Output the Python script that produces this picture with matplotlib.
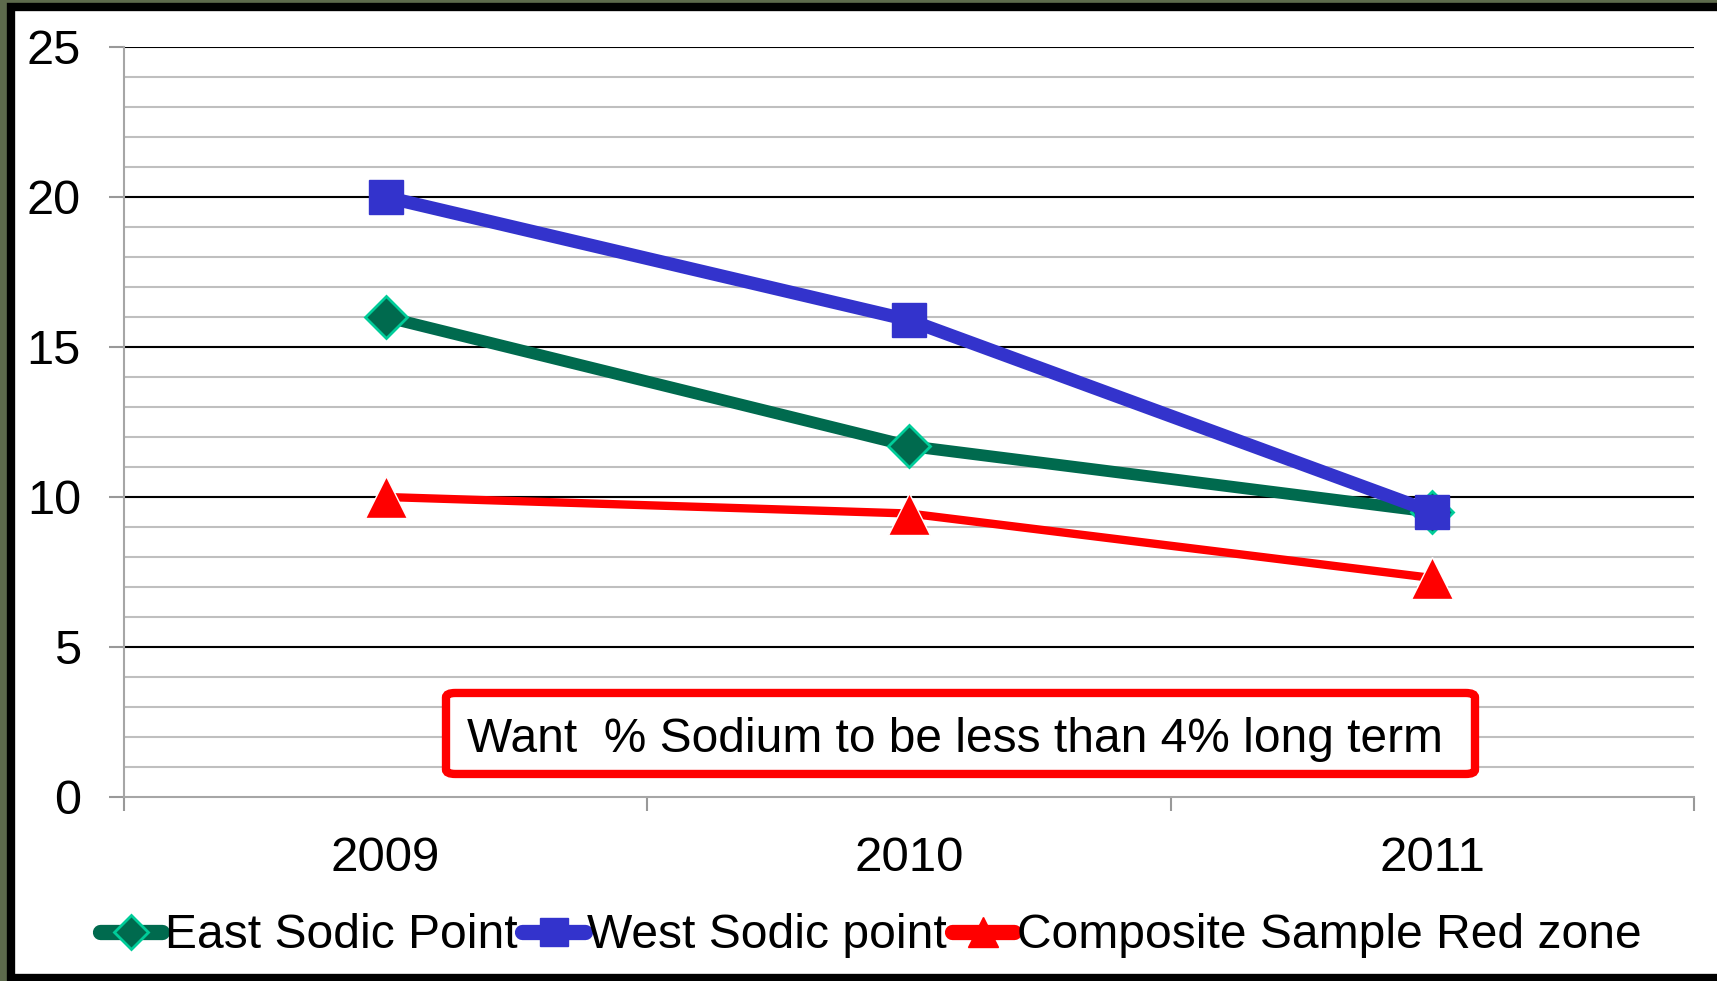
import matplotlib
matplotlib.use("Agg")
import matplotlib.pyplot as plt
from matplotlib.lines import Line2D
from matplotlib.patches import Rectangle, FancyBboxPatch

years = ["2009", "2010", "2011"]
east_sodic = [16.0, 11.7, 9.5]
west_sodic = [20.0, 15.9, 9.5]
composite_red = [10.0, 9.45, 7.3]
series_names = ["East Sodic Point", "West Sodic point", "Composite Sample Red zone"]
note_text = "Want  % Sodium to be less than 4% long term"

W, H = 1717, 981
plt.rcParams["font.family"] = ["Liberation Sans", "DejaVu Sans"]

fig = plt.figure(figsize=(W / 100, H / 100), dpi=100)
fig.patch.set_facecolor("#5d6a4c")

# white slide panel with black frame (right side runs off the image)
fig.add_artist(Rectangle((11 / W, 3 / H), 1.2, 1 - 10 / H, transform=fig.transFigure,
                         facecolor="white", edgecolor="black", linewidth=6, zorder=0))

ax = fig.add_axes([124 / W, 1 - 797 / H, 1570 / W, 750 / H])
ax.set_facecolor("none")

x = [1, 2, 3]
ax.plot(x, east_sodic, color="#006A4E", lw=8.5, marker="D", ms=21,
        mfc="#006A4E", mec="#00CC99", mew=2, zorder=3)
ax.plot(x, west_sodic, color="#3333CC", lw=9.5, marker="s", ms=24,
        mfc="#3333CC", mec="#3333CC", zorder=4)
ax.plot(x, composite_red, color="#FF0000", lw=6, marker="^", ms=30,
        mfc="#FF0000", mec="white", mew=1, zorder=3)

ax.set_xlim(0.5, 3.5)
ax.set_ylim(0, 25)

# gridlines: grey every 1, black every 5
for v in range(1, 25):
    ax.axhline(v, color="#BFBFBF", lw=1.5, zorder=1)
for v in range(5, 26, 5):
    ax.axhline(v, color="black", lw=1.5, zorder=2)

ax.set_yticks(range(0, 26, 5))
ax.tick_params(axis="y", length=11, width=1.5, color="#999999", pad=20, labelsize=35)
ax.set_xticks(x)
ax.set_xticklabels(years)
ax.tick_params(axis="x", which="major", length=0, pad=28, labelsize=35.5)
ax.set_xticks([0.5, 1.5, 2.5, 3.5], minor=True)
ax.tick_params(axis="x", which="minor", length=10, width=1.5, color="#999999")

for s in ["top", "right"]:
    ax.spines[s].set_visible(False)
for s in ["left", "bottom"]:
    ax.spines[s].set_color("#A6A6A6")
    ax.spines[s].set_linewidth(1.5)

# note box
ax.add_patch(FancyBboxPatch((0.2051, 0.0307), 0.6554, 0.108,
                            boxstyle="round,pad=0,rounding_size=0.006",
                            transform=ax.transAxes, facecolor="white",
                            edgecolor="#FF0000", linewidth=6, zorder=5))
ax.text(0.529, 0.076, note_text, transform=ax.transAxes, ha="center", va="center",
        fontsize=34.5, zorder=6)

handles = [
    Line2D([], [], color="#006A4E", lw=11, solid_capstyle="round", marker="D", ms=17,
           mfc="#006A4E", mec="#00CC99", mew=2),
    Line2D([], [], color="#3333CC", lw=11, solid_capstyle="round", marker="s", ms=20,
           mfc="#3333CC", mec="#3333CC"),
    Line2D([], [], color="#FF0000", lw=11, solid_capstyle="round", marker="^", ms=22,
           mfc="#FF0000", mec="#FF0000"),
]
fig.legend(handles, series_names, loc="center left", bbox_to_anchor=(100 / W, 1 - 936 / H),
           ncol=3, frameon=False, fontsize=34.6, handlelength=1.3, handletextpad=0.05,
           columnspacing=0.1, borderpad=0, borderaxespad=0)

fig.savefig("out.png", dpi=100)
